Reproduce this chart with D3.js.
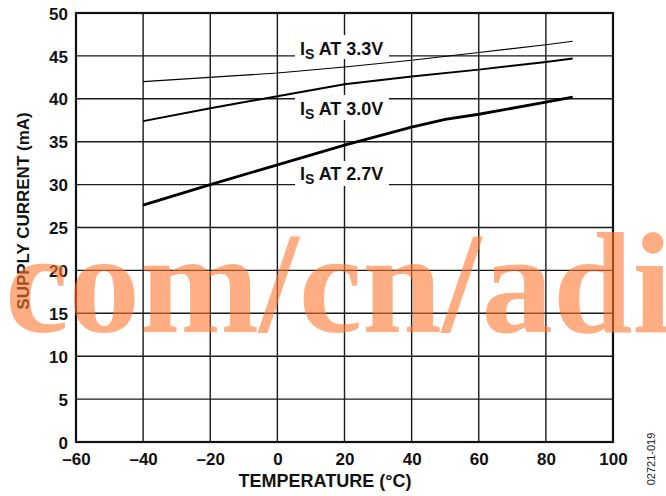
<!DOCTYPE html>
<html>
<head>
<meta charset="utf-8">
<script src="https://cdn.jsdelivr.net/npm/d3@7"></script>
<style>
  body { margin: 0; background: #fff; }
  svg { display: block; }
  text { font-family: "Liberation Sans", Arial, sans-serif; }
</style>
</head>
<body>
<svg id="chart" width="666" height="496"></svg>
<script>
// temperatures (°C) and supply current (mA)
const temps33 = [-40, 0, 20, 40, 60, 80, 88];
const is33 = [42.0, 43.0, 43.7, 44.5, 45.4, 46.3, 46.7];
const temps30 = [-40, -20, 0, 20, 40, 60, 80, 88];
const is30 = [37.4, 38.9, 40.3, 41.7, 42.6, 43.4, 44.3, 44.7];
const temps27 = [-40, -20, 0, 20, 40, 50, 60, 80, 88];
const is27 = [27.6, 30.0, 32.3, 34.6, 36.7, 37.6, 38.2, 39.6, 40.2];

const xTicks = [-60, -40, -20, 0, 20, 40, 60, 80, 100];
const yTicks = [0, 5, 10, 15, 20, 25, 30, 35, 40, 45, 50];

const svg = d3.select('#chart');
const plotL = 76, plotR = 613, plotT = 13, plotB = 442;

const x = d3.scaleLinear().domain([-60, 100]).range([plotL, plotR]);
const y = d3.scaleLinear().domain([0, 50]).range([plotB, plotT]);

// grid
const grid = svg.append('g');
grid.selectAll('.vg').data(xTicks).enter().append('line')
  .attr('x1', d => x(d)).attr('x2', d => x(d))
  .attr('y1', plotT).attr('y2', plotB)
  .attr('stroke', '#1a1a1a').attr('stroke-width', 1.4);
grid.selectAll('.hg').data(yTicks).enter().append('line')
  .attr('x1', plotL).attr('x2', plotR)
  .attr('y1', d => y(d)).attr('y2', d => y(d))
  .attr('stroke', '#1a1a1a').attr('stroke-width', 1.4);

// label boxes hide grid
const labels = [
  { v: '3.3', yTop: 35, yBot: 59, base: 55 },
  { v: '3.0', yTop: 95, yBot: 120, base: 115 },
  { v: '2.7', yTop: 161, yBot: 186, base: 180 }
];
labels.forEach(l => {
  svg.append('rect').attr('x', 295).attr('y', l.yTop)
    .attr('width', 94).attr('height', l.yBot - l.yTop).attr('fill', '#fff');
});

// frame
svg.append('rect').attr('x', plotL).attr('y', plotT)
  .attr('width', plotR - plotL).attr('height', plotB - plotT)
  .attr('fill', 'none').attr('stroke', '#111').attr('stroke-width', 2.2);

// axes (labels only)
const xAxis = d3.axisBottom(x).tickValues(xTicks).tickSize(0).tickPadding(0)
  .tickFormat(d => d < 0 ? '\u2013' + Math.abs(d) : d);
const gx = svg.append('g').attr('transform', `translate(0,${plotB})`).call(xAxis);
gx.select('.domain').remove();
gx.selectAll('text').attr('dy', null).attr('y', 23)
  .style('font-size', '17px').style('font-weight', 'bold').attr('fill', '#111');

const yAxis = d3.axisLeft(y).tickValues(yTicks).tickSize(0).tickPadding(8);
const gy = svg.append('g').attr('transform', `translate(${plotL},0)`).call(yAxis);
gy.select('.domain').remove();
gy.selectAll('text').attr('dy', '0.36em')
  .style('font-size', '17px').style('font-weight', 'bold').attr('fill', '#111');

// lines
const line = d3.line().x(d => x(d[0])).y(d => y(d[1]));
const series = [
  { t: temps33, v: is33, w: 1.1 },
  { t: temps30, v: is30, w: 2.0 },
  { t: temps27, v: is27, w: 2.8 }
];
series.forEach(s => {
  svg.append('path').datum(d3.zip(s.t, s.v)).attr('d', line)
    .attr('fill', 'none').attr('stroke', '#000').attr('stroke-width', s.w);
});

// series labels
labels.forEach(l => {
  const t = svg.append('text').attr('x', 300).attr('y', l.base)
    .style('font-size', '18px').style('font-weight', 'bold').attr('fill', '#111');
  t.append('tspan').text('I');
  t.append('tspan').text('S').attr('dy', 4).style('font-size', '14px');
  t.append('tspan').text(' AT ' + l.v + 'V').attr('dy', -4);
});

// axis titles
svg.append('text').attr('x', 325).attr('y', 487).attr('text-anchor', 'middle')
  .style('font-size', '18px').style('font-weight', 'bold').attr('fill', '#111')
  .text('TEMPERATURE (\u00b0C)');
svg.append('text').attr('transform', 'translate(29,211) rotate(-90)')
  .attr('text-anchor', 'middle')
  .style('font-size', '17px').style('font-weight', 'bold').attr('fill', '#111')
  .text('SUPPLY CURRENT (mA)');

svg.append('text').attr('transform', 'translate(655,459) rotate(-90)')
  .attr('text-anchor', 'middle').style('font-size', '11px').attr('fill', '#222')
  .text('02721-019');

// watermark
svg.append('text').attr('x', 5).attr('y', 332)
  .style('font-family', '"Liberation Serif", "Times New Roman", serif')
  .style('font-size', '143px').style('font-weight', 'bold')
  .attr('fill', 'rgb(255,120,50)').attr('fill-opacity', 0.6)
  .text('com/cn/adi');
</script>
</body>
</html>
